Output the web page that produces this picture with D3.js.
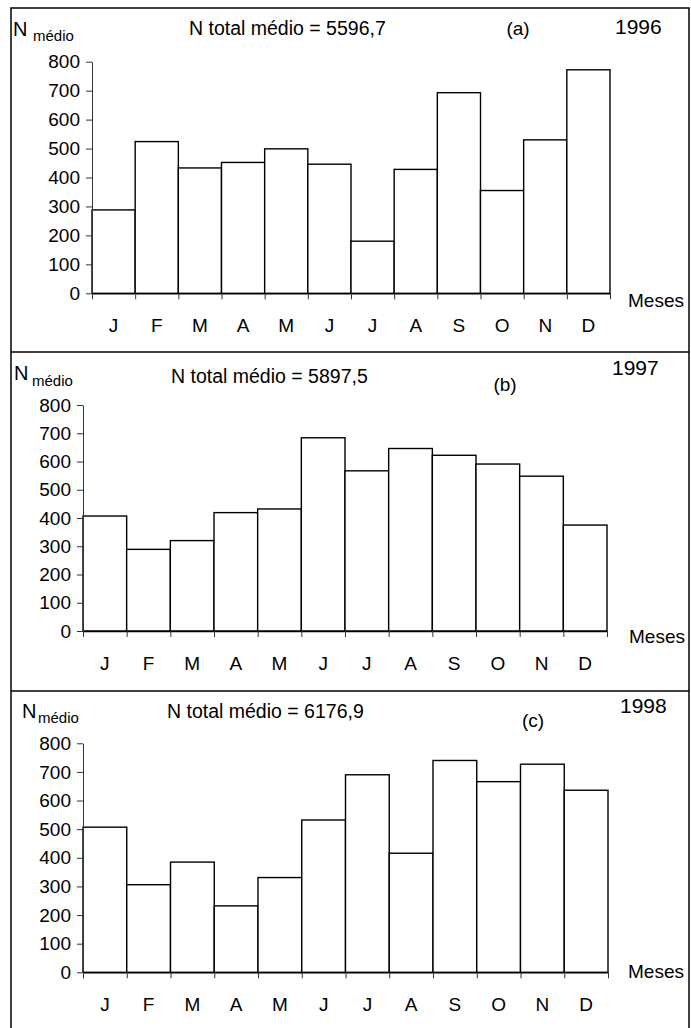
<!DOCTYPE html>
<html>
<head>
<meta charset="utf-8">
<script src="https://cdn.jsdelivr.net/npm/d3@7"></script>
<style>
  html, body { margin: 0; padding: 0; background: #fff; }
  svg { display: block; }
  text { font-family: "Liberation Sans", Arial, sans-serif; fill: #000; }
</style>
</head>
<body>
<svg id="chart" width="691" height="1028"></svg>
<script>
// Monthly mean counts, one array per year
const months = ["J", "F", "M", "A", "M", "J", "J", "A", "S", "O", "N", "D"];
const values1996 = [288, 524, 433, 452, 499, 446, 180, 428, 693, 355, 530, 772];
const values1997 = [407, 289, 320, 419, 432, 684, 567, 646, 622, 591, 548, 375];
const values1998 = [507, 306, 385, 232, 331, 532, 690, 416, 740, 666, 727, 636];
const yTicks = [0, 100, 200, 300, 400, 500, 600, 700, 800];
const years = ["1996", "1997", "1998"];
const panelTags = ["(a)", "(b)", "(c)"];
const totals = ["5596,7", "5897,5", "6176,9"];
const xAxisTitle = "Meses";

// Layout of each panel on the page
const layout = [
  { top: 8,   x0: 92, x1: 610, y0: 293.3, yMax: 61.7,
    n: [13, 36], sub: [33, 41], title: [189, 35], tag: [518, 35], year: [615, 34], meses: [628, 307], monthY: 332 },
  { top: 352, x0: 83, x1: 607, y0: 631, yMax: 405,
    n: [14, 380], sub: [32, 386], title: [171, 383], tag: [505, 391], year: [612, 375], meses: [629, 643], monthY: 670 },
  { top: 691, x0: 83, x1: 608, y0: 972.3, yMax: 743.3,
    n: [22, 718], sub: [38, 723], title: [167, 718], tag: [533, 727], year: [620, 713], meses: [628, 978], monthY: 1011 }
];
const series = [values1996, values1997, values1998];

const FONT = "Liberation Sans, Arial, sans-serif";
const svg = d3.select("#chart");

// Outer frame and panel separators
svg.append("rect")
  .attr("x", 11).attr("y", 8).attr("width", 678).attr("height", 1040)
  .attr("fill", "none").attr("stroke", "#000").attr("stroke-width", 1.5);

layout.slice(1).forEach(p => {
  svg.append("line")
    .attr("x1", 11).attr("x2", 689).attr("y1", p.top).attr("y2", p.top)
    .attr("stroke", "#000").attr("stroke-width", 1.5);
});

series.forEach((vals, k) => {
  const p = layout[k];
  const g = svg.append("g");

  const idx = d3.range(months.length);
  const x = d3.scaleBand().domain(idx).range([p.x0, p.x1]).paddingInner(0).paddingOuter(0);
  const xEdge = d3.scaleLinear().domain([0, months.length]).range([p.x0, p.x1]);
  const y = d3.scaleLinear().domain([0, 800]).range([p.y0, p.yMax]);

  // Bars
  g.selectAll("rect.bar")
    .data(vals)
    .join("rect")
    .attr("class", "bar")
    .attr("x", (d, i) => x(i))
    .attr("y", d => y(d))
    .attr("width", x.bandwidth())
    .attr("height", d => y(0) - y(d))
    .attr("fill", "#fff")
    .attr("stroke", "#000")
    .attr("stroke-width", 1.4);

  // Y axis
  const yAxis = g.append("g")
    .attr("transform", `translate(${p.x0},0)`)
    .call(d3.axisLeft(y).tickValues(yTicks).tickSize(6).tickSizeOuter(0).tickPadding(6));
  yAxis.select(".domain").attr("stroke", "#333");
  yAxis.selectAll(".tick line").attr("stroke", "#333");
  yAxis.selectAll(".tick text")
    .style("font-family", FONT)
    .style("font-size", "19px").attr("fill", "#000");

  // X axis: ticks at bar boundaries
  const xAxis = g.append("g")
    .attr("transform", `translate(0,${p.y0})`)
    .call(d3.axisBottom(xEdge).tickValues(d3.range(months.length + 1)).tickSize(6).tickSizeOuter(0).tickFormat(""));
  xAxis.select(".domain").attr("stroke", "#000").attr("stroke-width", 1.4);
  xAxis.selectAll(".tick line").attr("stroke", "#333");

  // Month labels centred under bars
  const mAxis = g.append("g")
    .attr("transform", `translate(0,${p.monthY})`)
    .call(d3.axisBottom(x).tickSize(0).tickPadding(0).tickFormat(i => months[i]));
  mAxis.select(".domain").remove();
  mAxis.selectAll(".tick text")
    .attr("y", 0).attr("dy", 0)
    .style("font-family", FONT)
    .style("font-size", "19px").attr("fill", "#000");

  // Axis titles and annotations
  g.append("text").attr("x", p.n[0]).attr("y", p.n[1]).style("font-size", "20px").text("N");
  g.append("text").attr("x", p.sub[0]).attr("y", p.sub[1]).style("font-size", "15px").text("médio");
  g.append("text").attr("x", p.title[0]).attr("y", p.title[1]).style("font-size", "19.5px")
    .text(`N total médio = ${totals[k]}`);
  g.append("text").attr("x", p.tag[0]).attr("y", p.tag[1]).attr("text-anchor", "middle")
    .style("font-size", "19px").text(panelTags[k]);
  g.append("text").attr("x", p.year[0]).attr("y", p.year[1]).style("font-size", "21px").text(years[k]);
  g.append("text").attr("x", p.meses[0]).attr("y", p.meses[1]).style("font-size", "19px").text(xAxisTitle);
});
</script>
</body>
</html>
